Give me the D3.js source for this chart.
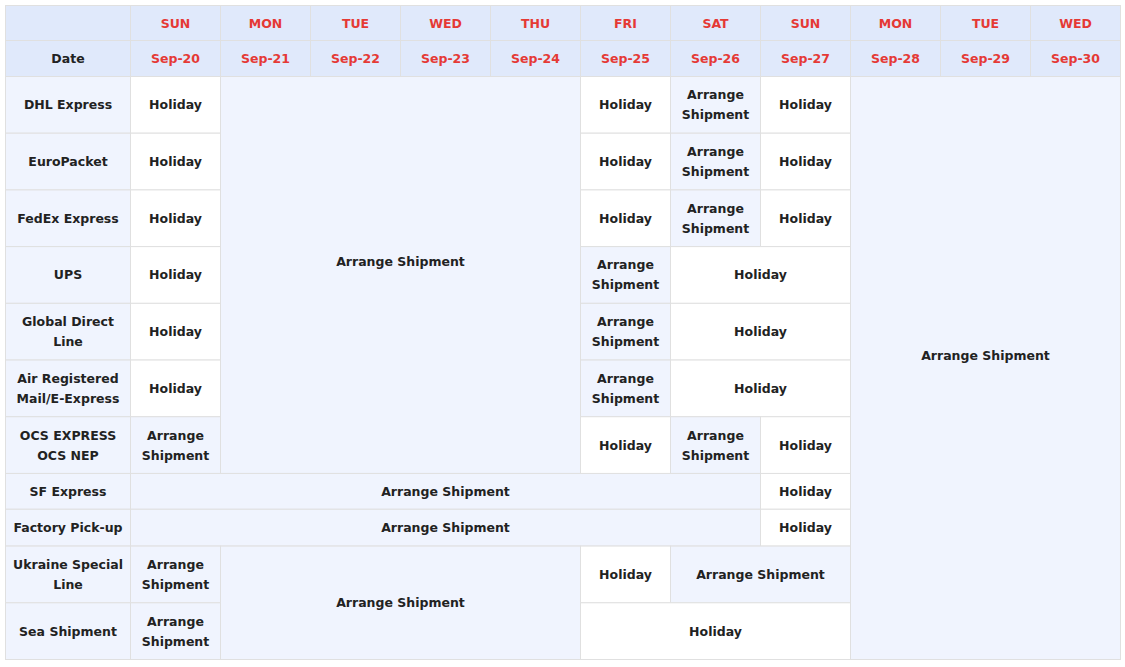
<!DOCTYPE html><html><head><meta charset="utf-8"><script src="https://cdn.jsdelivr.net/npm/d3@7"></script>
<style>body{margin:0;background:#fff}</style></head><body><svg id="c" width="1125" height="667"></svg>
<script>
const weekdays=["SUN","MON","TUE","WED","THU","FRI","SAT","SUN","MON","TUE","WED"];
const dates=["Sep-20","Sep-21","Sep-22","Sep-23","Sep-24","Sep-25","Sep-26","Sep-27","Sep-28","Sep-29","Sep-30"];
const carriers=["DHL Express","EuroPacket","FedEx Express","UPS","Global Direct\nLine","Air Registered\nMail/E-Express","OCS EXPRESS\nOCS NEP","SF Express","Factory Pick-up","Ukraine Special\nLine","Sea Shipment"];
const rowWeights=[57,57,57,57,57,57,57,36,37,57,57];
const A="Arrange Shipment",A2="Arrange\nShipment",H="Holiday";
// [row, col, rowspan, colspan, text]
const cells=[
[0,0,1,1,H],[1,0,1,1,H],[2,0,1,1,H],[3,0,1,1,H],[4,0,1,1,H],[5,0,1,1,H],[6,0,1,1,A2],
[0,1,7,4,A],
[0,5,1,1,H],[0,6,1,1,A2],[0,7,1,1,H],
[1,5,1,1,H],[1,6,1,1,A2],[1,7,1,1,H],
[2,5,1,1,H],[2,6,1,1,A2],[2,7,1,1,H],
[3,5,1,1,A2],[3,6,1,2,H],
[4,5,1,1,A2],[4,6,1,2,H],
[5,5,1,1,A2],[5,6,1,2,H],
[6,5,1,1,H],[6,6,1,1,A2],[6,7,1,1,H],
[7,0,1,7,A],[7,7,1,1,H],
[8,0,1,7,A],[8,7,1,1,H],
[9,0,1,1,A2],[9,1,2,4,A],[9,5,1,1,H],[9,6,1,2,A],
[10,0,1,1,A2],[10,5,1,3,H],
[0,8,11,3,A]
];
const svg=d3.select("#c");
const x=d3.scaleBand().domain(d3.range(11)).range([130.5,1120.5]);
const bounds=[0];rowWeights.forEach(w=>bounds.push(bounds[bounds.length-1]+w));
const y=d3.scaleLinear().domain([0,bounds[bounds.length-1]]).range([76.5,659.5]);
const ry=i=>y(bounds[i]);
const font="DejaVu Sans, Verdana, sans-serif";
function txt(cx,cy,s,color){
  const lines=s.split("\n");
  const t=svg.append("text").attr("x",cx).attr("text-anchor","middle").attr("font-family",font).attr("font-weight","bold").attr("font-size",12.5).attr("fill",color);
  lines.forEach((l,i)=>t.append("tspan").attr("x",cx).attr("y",cy+(i-(lines.length-1)/2)*20+4.5).text(l));
}
function rect(x0,y0,w,h,fill){svg.append("rect").attr("x",x0).attr("y",y0).attr("width",w).attr("height",h).attr("fill",fill).attr("stroke","#e0e0e0").attr("stroke-width",1);}
// headers
rect(5.5,5.5,125,35,"#e0e9fb");rect(5.5,40.5,125,36,"#e0e9fb");txt(68,58,"Date","#222");
weekdays.forEach((d,i)=>{rect(x(i),5.5,x.bandwidth(),35,"#e0e9fb");txt(x(i)+45,23,d,"#e53935");
  rect(x(i),40.5,x.bandwidth(),36,"#e0e9fb");txt(x(i)+45,58,dates[i],"#e53935");});
carriers.forEach((c,i)=>{rect(5.5,ry(i),125,ry(i+1)-ry(i),"#f0f4fe");txt(68,(ry(i)+ry(i+1))/2,c,"#222");});
cells.forEach(([r,c,rs,cs,t])=>{
  const x0=x(c),x1=x(c+cs-1)+x.bandwidth(),y0=ry(r),y1=ry(r+rs);
  rect(x0,y0,x1-x0,y1-y0,t===H?"#ffffff":"#f0f4fe");
  txt((x0+x1)/2,(y0+y1)/2-(rs>2?13:0),t,"#222");
});
</script></body></html>
